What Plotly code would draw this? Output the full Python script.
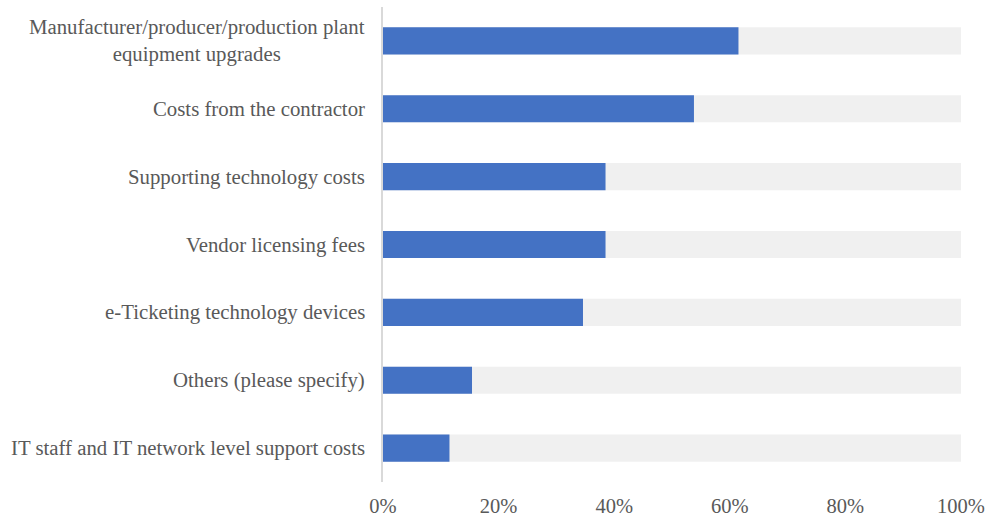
import plotly.graph_objects as go

# Survey responses: share of respondents naming each cost item
categories = [
    "Manufacturer/producer/production plant<br>equipment upgrades",
    "Costs from the contractor",
    "Supporting technology costs",
    "Vendor licensing fees",
    "e-Ticketing technology devices",
    "Others (please specify)",
    "IT staff and IT network level support costs",
]
shares = [61.5, 53.8, 38.5, 38.5, 34.6, 15.4, 11.5]
full_scale = [100] * len(categories)
tick_values = [0, 20, 40, 60, 80, 100]
tick_labels = ["0%", "20%", "40%", "60%", "80%", "100%"]

FONT = "Liberation Serif, Times New Roman, serif"
TEXT = "#595959"

fig = go.Figure()

# light grey track behind each bar
fig.add_trace(go.Bar(
    y=categories, x=full_scale, orientation="h",
    marker=dict(color="#f0f0f0", line=dict(width=0)),
    width=0.4, hoverinfo="skip", showlegend=False,
))
# actual shares
fig.add_trace(go.Bar(
    y=categories, x=shares, orientation="h",
    marker=dict(color="#4472c4", line=dict(width=0)),
    width=0.4, showlegend=False,
))

# category labels as centred text blocks to the left of the axis
for cat in categories:
    fig.add_annotation(
        x=0, xref="paper", y=cat, yref="y",
        text=cat, showarrow=False,
        xanchor="right", yanchor="middle", align="center",
        xshift=-16, yshift=0,
        font=dict(family=FONT, size=20.8, color=TEXT),
    )

fig.update_layout(
    barmode="overlay",
    width=990, height=516,
    margin=dict(l=383, r=29, t=7, b=34, autoexpand=False),
    paper_bgcolor="white", plot_bgcolor="white",
    font=dict(family=FONT, size=20.5, color=TEXT),
)
fig.update_xaxes(
    range=[0, 100], tickvals=tick_values, ticktext=tick_labels,
    showgrid=False, zeroline=False, showline=False, ticks="",
    ticklabelstandoff=9, automargin=False,
)
fig.update_yaxes(
    categoryorder="array", categoryarray=categories[::-1],
    range=[-0.5, len(categories) - 0.5],
    showgrid=False, zeroline=False, showline=True, linecolor="#d9d9d9", linewidth=1.5,
    ticks="", showticklabels=False, automargin=False,
)

fig.write_html("out.html")
